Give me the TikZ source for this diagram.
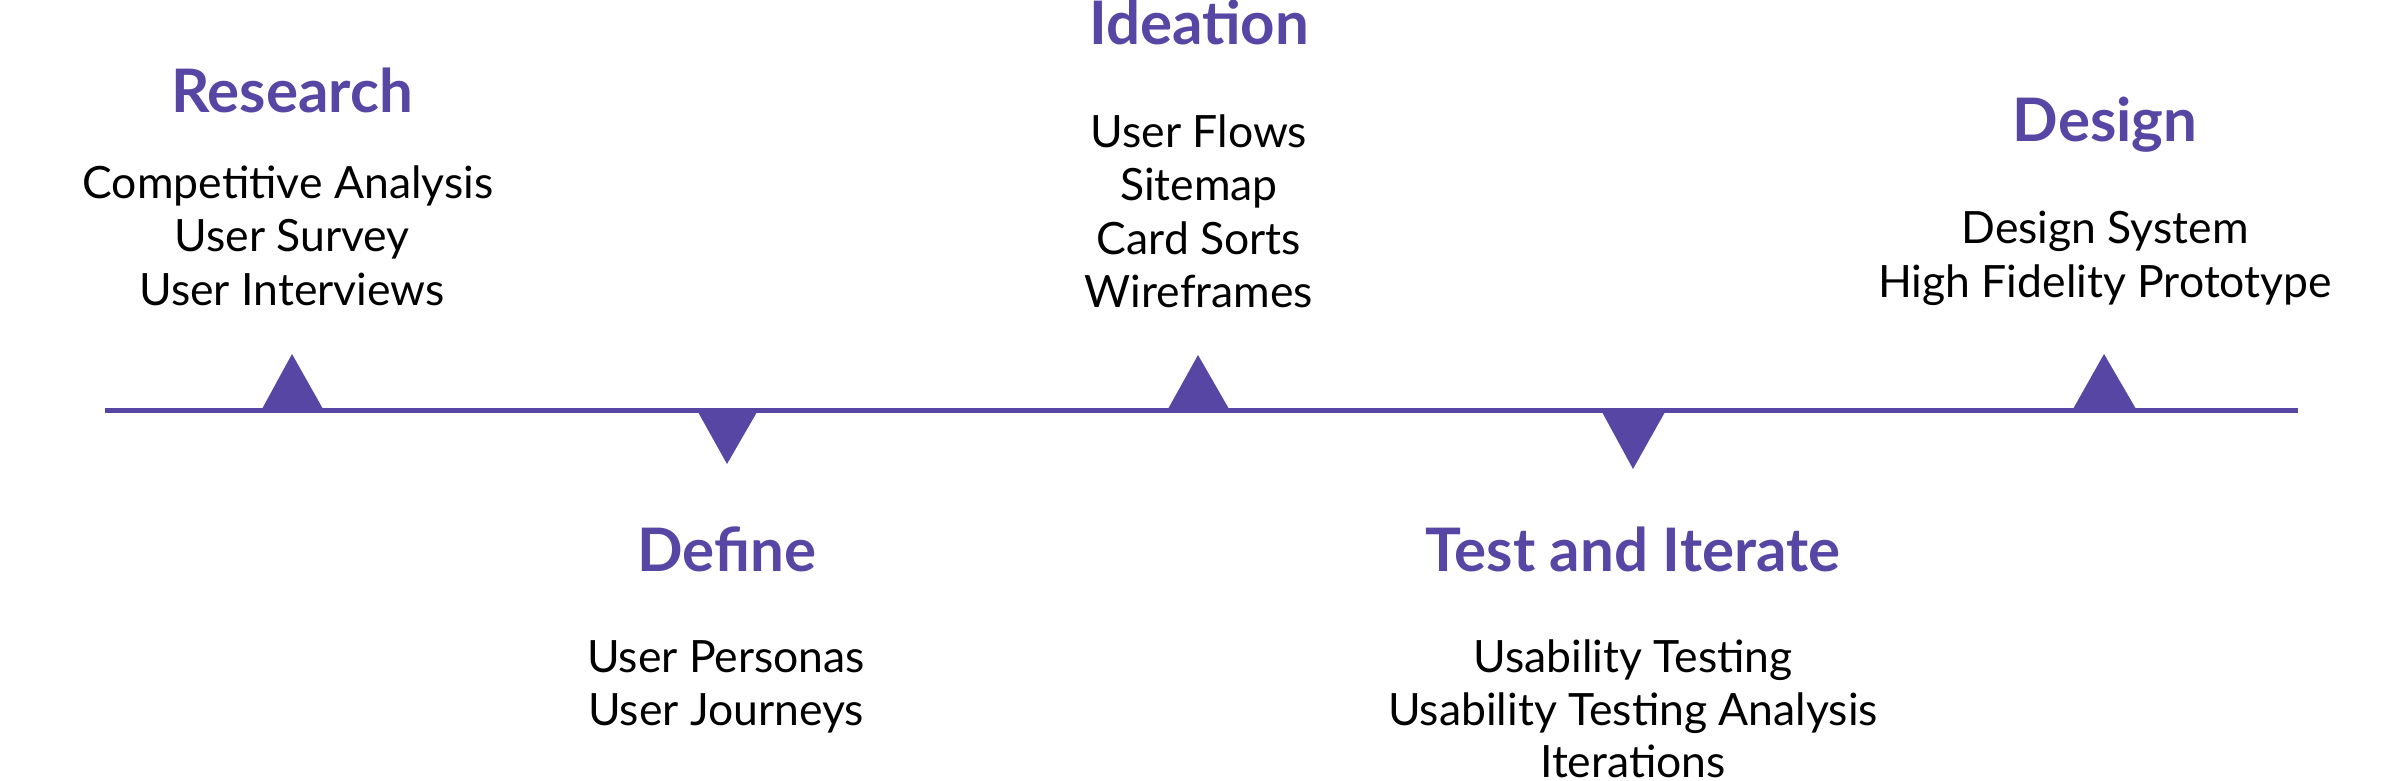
\documentclass[tikz,border=0pt]{standalone}
\usepackage{fontspec}
\setmainfont{Lato}
\definecolor{brand}{RGB}{88,70,165}
\tikzset{
  ttl/.style={anchor=base, inner sep=0pt, text=brand, font=\fontsize{60}{60}\selectfont\bfseries},
  itm/.style={anchor=base, inner sep=0pt, text=black, font=\fontsize{44.5}{50}\selectfont},
  tri/.style={fill=brand, draw=none}
}
\begin{document}
\begin{tikzpicture}[x=1pt,y=-1pt]
\useasboundingbox[fill=white] (0,0) rectangle (2397,781);
% timeline
\coordinate (L) at (105,410.5);
\coordinate (R) at (2298,410.5);
\draw[brand, line width=5pt] (L) -- (R);
% triangles up
\fill[tri] (262,409) -- (292,354) -- (323,409) -- cycle;
\fill[tri] (1168,409) -- (1198,355) -- (1229,409) -- cycle;
\fill[tri] (2073,409) -- (2104,354) -- (2136,409) -- cycle;
% triangles down
\fill[tri] (698,412) -- (727,464) -- (757,412) -- cycle;
\fill[tri] (1602,412) -- (1633,469) -- (1665,412) -- cycle;
% Research
\node[ttl] (research) at (292,113) {Research};
\node[itm] (r1) at (288,198) {Competitive Analysis};
\node[itm] (r2) at (292,251.5) {User Survey};
\node[itm] (r3) at (292,305) {User Interviews};
% Ideation
\node[ttl] (ideation) at (1199,45) {Ideation};
\node[itm] (i1) at (1199,147) {User Flows};
\node[itm] (i2) at (1199,200.5) {Sitemap};
\node[itm] (i3) at (1199,254) {Card Sorts};
\node[itm] (i4) at (1199,307.5) {Wireframes};
% Design
\node[ttl] (design) at (2105,141) {Design};
\node[itm] (d1) at (2105,243) {Design System};
\node[itm] (d2) at (2105,297) {High Fidelity Prototype};
% Define
\node[ttl] (define) at (727,571) {Define};
\node[itm] (f1) at (726,672) {User Personas};
\node[itm] (f2) at (726,725) {User Journeys};
% Test and Iterate
\node[ttl] (test) at (1633,571) {Test and Iterate};
\node[itm] (t1) at (1633,672) {Usability Testing};
\node[itm] (t2) at (1633,725) {Usability Testing Analysis};
\node[itm] (t3) at (1633,777) {Iterations};
\end{tikzpicture}
\end{document}
